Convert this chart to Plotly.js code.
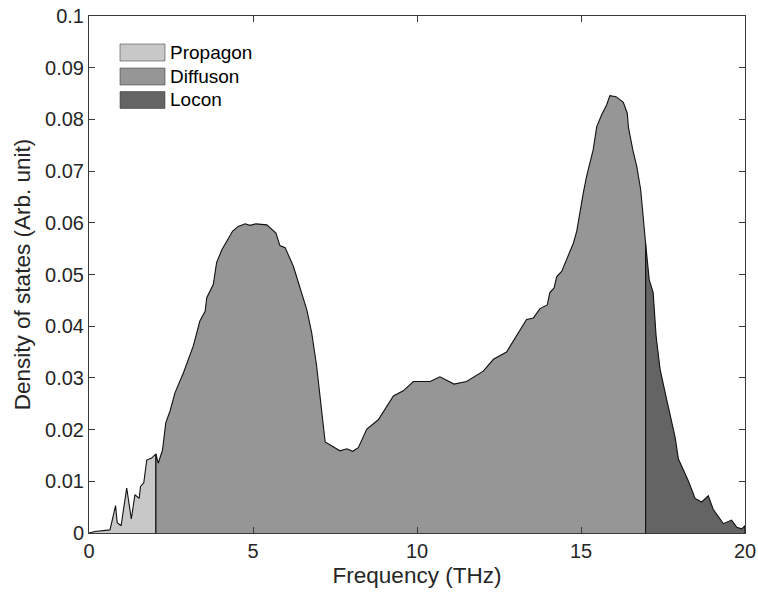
<!DOCTYPE html>
<html><head><meta charset="utf-8">
<script src="https://cdn.plot.ly/plotly-3.0.1.min.js"></script>
<style>html,body{margin:0;padding:0;background:#fff}</style>
</head><body><div id="chart" style="width:758px;height:596px"></div>
<script>
// ---- data ----
const seriesNames = ['Propagon', 'Diffuson', 'Locon'];

const propagonFreq = [0, 0.18, 0.64, 0.81, 0.86, 0.98, 1.02, 1.15, 1.29, 1.40, 1.53, 1.57, 1.67, 1.76, 1.91, 2.04];
const propagonDos  = [0, 0.0003, 0.0006, 0.0053, 0.0020, 0.0014, 0.0032, 0.0087, 0.0027, 0.0074, 0.0067, 0.0090, 0.0097, 0.0141, 0.0145, 0.0153];

const diffusonFreq = [2.04, 2.11, 2.16, 2.24, 2.34, 2.47, 2.62, 2.88, 3.18, 3.38, 3.54, 3.59, 3.79, 3.89, 4.05, 4.38, 4.55, 4.76, 4.91, 5.09, 5.42, 5.70, 5.82, 5.98, 6.23, 6.53, 6.64, 6.79, 6.94, 7.20, 7.65, 7.86, 8.04, 8.21, 8.47, 8.82, 9.28, 9.58, 9.89, 10.40, 10.70, 11.13, 11.51, 12.02, 12.33, 12.73, 13.34, 13.55, 13.75, 13.97, 14.05, 14.18, 14.26, 14.41, 14.56, 14.77, 14.87, 14.97, 15.07, 15.17, 15.25, 15.37, 15.48, 15.63, 15.78, 15.88, 16.07, 16.29, 16.41, 16.45, 16.58, 16.70, 16.82, 16.90, 16.97];
const diffusonDos  = [0.0153, 0.0135, 0.0146, 0.0160, 0.0213, 0.0236, 0.0271, 0.0310, 0.0362, 0.0410, 0.0429, 0.0455, 0.0481, 0.0523, 0.0548, 0.0584, 0.0593, 0.0598, 0.0595, 0.0598, 0.0596, 0.0580, 0.0556, 0.0552, 0.0516, 0.0452, 0.0432, 0.0387, 0.0323, 0.0176, 0.0159, 0.0163, 0.0158, 0.0165, 0.0201, 0.0219, 0.0265, 0.0275, 0.0293, 0.0293, 0.0302, 0.0288, 0.0293, 0.0313, 0.0336, 0.0350, 0.0413, 0.0416, 0.0434, 0.0441, 0.0465, 0.0474, 0.0496, 0.0506, 0.0529, 0.0561, 0.0584, 0.0625, 0.0658, 0.0690, 0.0712, 0.0741, 0.0786, 0.0809, 0.0828, 0.0846, 0.0844, 0.0833, 0.0812, 0.0783, 0.0741, 0.0709, 0.0664, 0.0606, 0.0560];

const loconFreq = [16.97, 17.08, 17.20, 17.29, 17.41, 17.61, 17.87, 17.97, 18.27, 18.48, 18.68, 18.88, 19.03, 19.34, 19.59, 19.75, 19.90, 20.0];
const loconDos  = [0.0560, 0.0490, 0.0465, 0.0381, 0.0317, 0.0259, 0.0185, 0.0143, 0.0101, 0.0067, 0.0060, 0.0072, 0.0046, 0.0018, 0.0025, 0.0011, 0.0008, 0.0014];

const xTickVals = [0, 5, 10, 15, 20];
const yTickVals = [0, 0.01, 0.02, 0.03, 0.04, 0.05, 0.06, 0.07, 0.08, 0.09, 0.1];

// ---- styles ----
const fillColors = ['#c8c8c8', '#969696', '#646464'];
const FONT = '"Liberation Sans", Arial, Helvetica, sans-serif';
const TXT = '#262626';

const segments = [
  [propagonFreq, propagonDos],
  [diffusonFreq, diffusonDos],
  [loconFreq, loconDos]
];

const traces = segments.map(([f, d], i) => ({
  type: 'scatter', mode: 'lines',
  name: seriesNames[i],
  x: [f[0]].concat(f, [f[f.length - 1]]),
  y: [0].concat(d, [0]),
  fill: 'toself',
  fillcolor: fillColors[i],
  line: {color: '#111111', width: 1.1},
  hoverinfo: 'skip',
  showlegend: false
}));

// plot area geometry (px) for legend placement
const M = {l: 89, r: 13, t: 16, b: 63};
const W = 758, H = 596;
const pw = W - M.l - M.r, ph = H - M.t - M.b;
const px2x = p => (p - M.l) / pw;
const py2y = p => 1 - (p - M.t) / ph;

const legendCenters = [52.5, 76.5, 100];
const shapes = [], annotations = [];
seriesNames.forEach((n, i) => {
  const c = legendCenters[i];
  shapes.push({type: 'rect', xref: 'paper', yref: 'paper',
    x0: px2x(120), x1: px2x(165), y0: py2y(c + 8.5), y1: py2y(c - 8.5),
    fillcolor: fillColors[i], line: {color: 'rgba(60,60,60,0.55)', width: 1}});
  annotations.push({xref: 'paper', yref: 'paper', x: px2x(168), y: py2y(c),
    xanchor: 'left', yanchor: 'middle', showarrow: false, text: n,
    font: {family: FONT, size: 19, color: '#000'}});
});

const axisCommon = {
  showline: true, linecolor: '#3a3a3a', linewidth: 1, mirror: 'ticks',
  ticks: 'inside', ticklen: 6, tickwidth: 1, tickcolor: '#3a3a3a',
  showgrid: false, zeroline: false,
  tickfont: {family: FONT, size: 20, color: TXT}
};

const layout = {
  width: W, height: H,
  margin: M,
  paper_bgcolor: '#fff', plot_bgcolor: '#fff',
  showlegend: false,
  xaxis: Object.assign({}, axisCommon, {
    range: [0, 20], tickvals: xTickVals, ticktext: xTickVals.map(String),
    title: {text: 'Frequency (THz)', font: {family: FONT, size: 22.5, color: TXT}, standoff: 6}
  }),
  yaxis: Object.assign({}, axisCommon, {
    range: [0, 0.1], tickvals: yTickVals, ticktext: yTickVals.map(String),
    title: {text: 'Density of states (Arb. unit)', font: {family: FONT, size: 22.5, color: TXT}, standoff: 8}
  }),
  shapes: shapes,
  annotations: annotations
};

Plotly.newPlot('chart', traces, layout, {staticPlot: true, displayModeBar: false});
</script>
</body></html>
